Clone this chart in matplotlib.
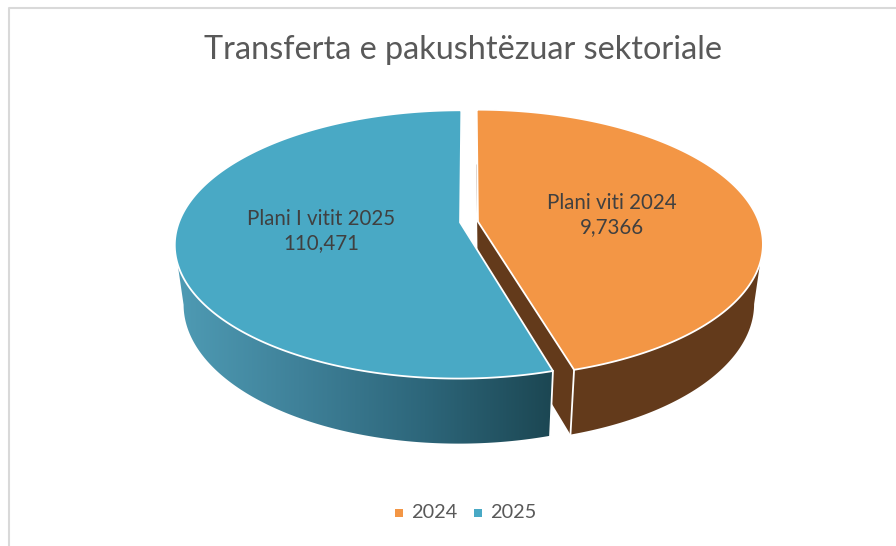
#!/usr/bin/env python3
"""Exploded 3D pie: Transferta e pakushtezuar sektoriale."""
import matplotlib
matplotlib.use('Agg')
import matplotlib.pyplot as plt
from matplotlib.colors import LinearSegmentedColormap
from matplotlib.patches import Polygon
import numpy as np

plt.rcParams['font.family'] = ['Lato', 'DejaVu Sans']

TITLE = 'Transferta e pakushtëzuar sektoriale'
YEARS = ['2024', '2025']
VALUES = [97366, 110471]
SLICE_LABELS = ['Plani viti 2024\n9,7366', 'Plani I vitit 2025\n110,471']
TOP_COLORS = ['#f39645', '#49a9c5']
BROWN = '#633a1b'

# projection of the disc into pixel coordinates
CX, CY = 469, 222
RX, RY = 281, 130.4
PERSP = 0.164      # far side smaller than near side
DEPTH_SCALE = 0.03
DEPTH_H = 61
EXPLODE = 0.032
WARP = np.radians(26)  # excel squeezes the angles at the front of the pie


def warp(theta):
    return theta - WARP * np.sin(theta)


def project(theta, r, bisector, depth=0.0):
    """theta clockwise from 12 o'clock, r in 0..1, depth 0=top 1=bottom."""
    t = warp(theta)
    u = r * np.sin(t) + EXPLODE * np.sin(bisector)
    v = r * np.cos(t) + EXPLODE * np.cos(bisector)
    w = 1 + PERSP * v + DEPTH_SCALE * depth
    return CX + RX * u / w, CY + (DEPTH_H * depth - RY * v) / w


def wall_outline(th, bis):
    # only the part of the rim facing the viewer, up to the silhouette
    th = th[np.cos(warp(th)) < -PERSP]
    xt, yt = project(th, 1, bis)
    xb, yb = project(th, 1, bis, 1)
    return np.c_[np.r_[xt, xb[::-1]], np.r_[yt, yb[::-1]]]


def top_outline(th, bis):
    xa, ya = project(0.0, 0, bis)
    xt, yt = project(th, 1, bis)
    return np.c_[np.r_[xa, xt], np.r_[ya, yt]]


def main():
    fig = plt.figure(figsize=(8.96, 5.46), dpi=100)
    ax = fig.add_axes([0, 0, 1, 1])

    shares = np.array(VALUES) / sum(VALUES)
    edges = np.concatenate([[0], np.cumsum(shares)]) * 2 * np.pi
    bis = (edges[:-1] + edges[1:]) / 2

    # orange slice first, blue sits in front of its cut face
    th = np.linspace(edges[0], edges[1], 400)
    ax.add_patch(Polygon(wall_outline(th, bis[0]), facecolor=BROWN,
                         edgecolor='none', zorder=1))
    for e in edges[:2]:
        x0, y0 = project(e, 1, bis[0])
        x1, y1 = project(e, 1, bis[0], 1)
        ax0, ay0 = project(e, 0, bis[0])
        ax1, ay1 = project(e, 0, bis[0], 1)
        ax.fill([ax0, x0, x1, ax1], [ay0, y0, y1, ay1], facecolor=BROWN,
                edgecolor='none', zorder=2)
        ax.plot([x0, x1], [y0, y1], color='white', lw=1.3, zorder=3)
    ax.add_patch(Polygon(top_outline(th, bis[0]), facecolor=TOP_COLORS[0],
                         edgecolor='white', lw=1.3, zorder=4))

    # blue slice, wall shaded left to right
    th = np.linspace(edges[1], edges[2], 800)
    cmap = LinearSegmentedColormap.from_list(
        'blue_wall', ['#4f9cb5', '#3f8199', '#2d667a', '#1c4753'])
    img = ax.imshow(np.linspace(0, 1, 256)[None, :], cmap=cmap, aspect='auto',
                    extent=[172, 552, 450, 240], zorder=5)
    clip = Polygon(wall_outline(th, bis[1]), transform=ax.transData,
                   facecolor='none', edgecolor='none')
    ax.add_patch(clip)
    img.set_clip_path(clip)
    x0, y0 = project(edges[1], 1, bis[1])
    x1, y1 = project(edges[1], 1, bis[1], 1)
    ax.plot([x0, x1], [y0, y1], color='white', lw=1.3, zorder=6)
    ax.add_patch(Polygon(top_outline(th, bis[1]), facecolor=TOP_COLORS[1],
                         edgecolor='white', lw=1.3, zorder=7))

    # chart frame, runs off the screenshot on the right and bottom
    ax.plot([9, 9, 896], [546, 8, 8], color='#d9d9d9', lw=1.5)

    ax.text(463, 50, TITLE, ha='center', va='center', fontsize=23.3,
            color='#595959')
    ax.text(321, 231, SLICE_LABELS[1], ha='center', va='center', fontsize=14.8,
            color='#404040', linespacing=1.3, zorder=9)
    ax.text(612, 215, SLICE_LABELS[0], ha='center', va='center', fontsize=14.8,
            color='#404040', linespacing=1.3, zorder=9)

    for year, col, sx, tx0 in zip(YEARS, TOP_COLORS, [399, 478], [411, 490]):
        ax.plot([sx], [513], marker='s', ms=5.2, color=col, mew=0)
        ax.text(tx0, 513, year, ha='left', va='center', fontsize=14.3,
                color='#595959')

    ax.set_xlim(0, 896)
    ax.set_ylim(546, 0)
    ax.axis('off')
    fig.savefig('out.png', dpi=100)


if __name__ == '__main__':
    main()
